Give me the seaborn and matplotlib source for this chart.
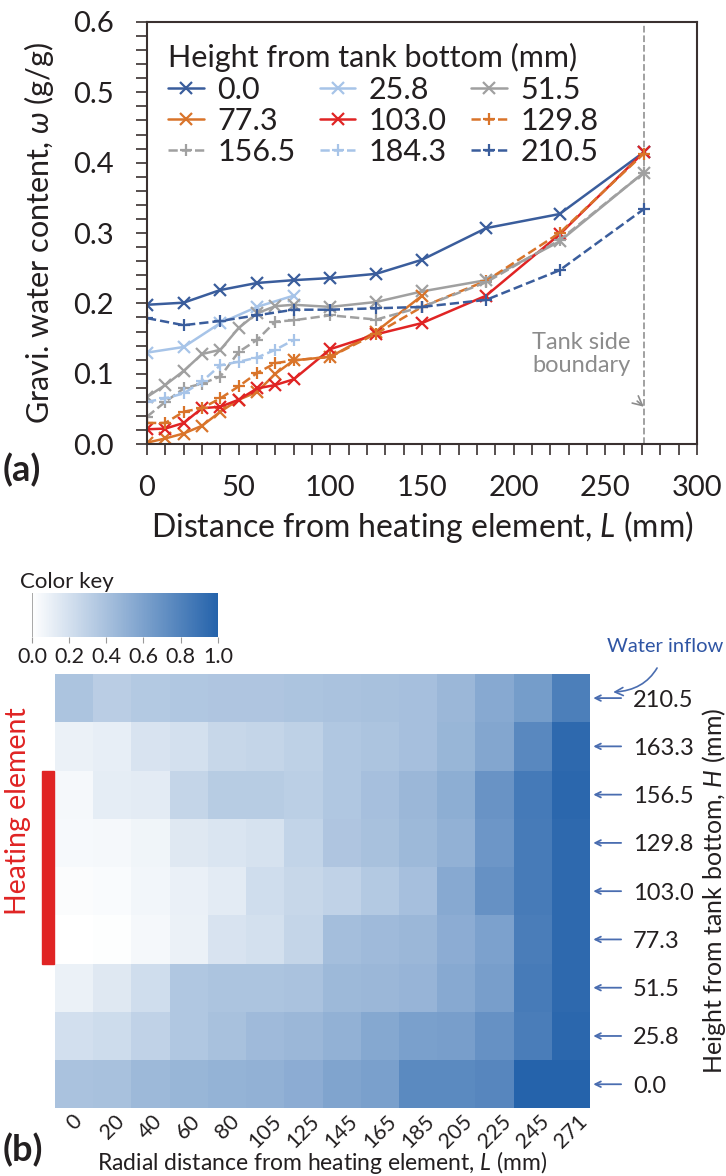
import numpy as np
import pandas as pd
import matplotlib
matplotlib.use("Agg")
import matplotlib.pyplot as plt
import matplotlib.transforms as mtransforms
from matplotlib.colors import LinearSegmentedColormap
from matplotlib.patches import Rectangle
import seaborn as sns

# ---- panel (a) data: water content vs distance ----
L10 = [0, 10, 20, 30, 40, 50, 60, 70, 80, 100, 125, 150, 185, 225, 271]
L20 = [0, 20, 40, 60, 80, 100, 125, 150, 185, 225, 271]

h_000 = [0.198, 0.201, 0.219, 0.229, 0.233, 0.236, 0.242, 0.262, 0.307, 0.327, 0.415]
h_258 = [0.130, 0.138, 0.172, 0.195, 0.211]
h_515 = [0.067, 0.084, 0.104, 0.128, 0.134, 0.165, 0.186, 0.196, 0.198, 0.195, 0.202, 0.217, 0.233, 0.288, 0.386]
h_773 = [0.002, 0.008, 0.015, 0.026, 0.046, 0.063, 0.074, 0.100, 0.119, 0.124, 0.160, 0.211]
h_1030 = [0.021, 0.022, 0.030, 0.051, 0.053, 0.063, 0.079, 0.084, 0.092, 0.135, 0.156, 0.172, 0.211, 0.298, 0.415]
h_1298 = [0.030, 0.030, 0.046, 0.051, 0.065, 0.082, 0.101, 0.115, 0.119, 0.124, 0.157, 0.195, 0.232, 0.300, 0.413]
h_1565 = [0.039, 0.060, 0.079, 0.086, 0.096, 0.131, 0.148, 0.174, 0.176, 0.183, 0.177, 0.195, 0.230, 0.290, 0.386]
h_1843 = [0.060, 0.065, 0.072, 0.089, 0.112, 0.117, 0.123, 0.134, 0.148]
h_2105 = [0.179, 0.169, 0.175, 0.183, 0.191, 0.191, 0.193, 0.195, 0.205, 0.247, 0.334]

# ---- panel (b) data: normalised heat map ----
col_labels = ["0", "20", "40", "60", "80", "105", "125", "145", "165", "185", "205", "225", "245", "271"]
row_labels = ["210.5", "163.3", "156.5", "129.8", "103.0", "77.3", "51.5", "25.8", "0.0"]
r_2105 = [0.38, 0.32, 0.35, 0.36, 0.37, 0.37, 0.38, 0.39, 0.40, 0.41, 0.46, 0.55, 0.63, 0.82]
r_1633 = [0.09, 0.11, 0.18, 0.20, 0.26, 0.27, 0.30, 0.36, 0.38, 0.41, 0.47, 0.57, 0.76, 0.96]
r_1565 = [0.05, 0.12, 0.13, 0.27, 0.33, 0.33, 0.31, 0.36, 0.41, 0.46, 0.52, 0.69, 0.85, 0.97]
r_1298 = [0.04, 0.05, 0.07, 0.15, 0.17, 0.19, 0.28, 0.37, 0.40, 0.45, 0.50, 0.67, 0.84, 0.96]
r_1030 = [0.02, 0.03, 0.06, 0.10, 0.13, 0.22, 0.26, 0.29, 0.35, 0.41, 0.55, 0.70, 0.84, 0.96]
r_773 = [0.00, 0.01, 0.05, 0.09, 0.18, 0.20, 0.27, 0.42, 0.44, 0.46, 0.53, 0.60, 0.83, 0.96]
r_515 = [0.09, 0.15, 0.22, 0.36, 0.38, 0.38, 0.39, 0.45, 0.46, 0.48, 0.55, 0.62, 0.84, 0.96]
r_258 = [0.21, 0.23, 0.29, 0.36, 0.40, 0.44, 0.46, 0.50, 0.56, 0.61, 0.62, 0.70, 0.83, 0.97]
r_000 = [0.39, 0.40, 0.45, 0.47, 0.49, 0.50, 0.53, 0.58, 0.61, 0.75, 0.75, 0.77, 1.00, 1.00]

sns.set_style("ticks")
plt.rcParams['font.family'] = ['Lato', 'DejaVu Sans']
plt.rcParams['mathtext.fontset'] = 'custom'
plt.rcParams['mathtext.it'] = 'Lato:italic'
plt.rcParams['mathtext.rm'] = 'Lato'
txt = "#231f20"
plt.rcParams['text.color'] = txt
plt.rcParams['axes.labelcolor'] = txt
plt.rcParams['xtick.color'] = txt
plt.rcParams['ytick.color'] = txt

fig = plt.figure(figsize=(7.26, 11.76), dpi=100)

# ================= (a) =================
ax = fig.add_axes([0.2025, 0.6224, 0.7576, 0.3589])

dblue = "#3a5d9c"
lblue = "#a7c4e8"
gray = "#a0a0a0"
orange = "#d9742a"
red = "#e02424"

series = [
    ("0.0", L20, h_000, dblue, "-", "x"),
    ("25.8", L20[:5], h_258, lblue, "-", "x"),
    ("51.5", L10, h_515, gray, "-", "x"),
    ("77.3", L10[:12], h_773, orange, "-", "x"),
    ("103.0", L10, h_1030, red, "-", "x"),
    ("129.8", L10, h_1298, orange, "--", "+"),
    ("156.5", L10, h_1565, gray, "--", "+"),
    ("184.3", L10[:9], h_1843, lblue, "--", "+"),
    ("210.5", L20, h_2105, dblue, "--", "+"),
]
for name, xs, ys, c, ls, mk in series:
    sns.lineplot(x=xs, y=ys, ax=ax, color=c, linestyle=ls, marker=mk,
                 markersize=8, markeredgewidth=1.6, linewidth=1.8, label=name,
                 markeredgecolor=c)

ax.axvline(271, color="#9a9a9a", linestyle="--", linewidth=1.3, zorder=0)
ax.annotate("Tank side\nboundary", xy=(271, 0.053), xytext=(237, 0.128),
            ha="center", va="center", fontsize=17, color="#8c8c8c", linespacing=1.15,
            arrowprops=dict(arrowstyle="->", color="#8c8c8c", lw=1.2,
                            shrinkA=24, shrinkB=0))

ax.set_xlim(0, 300)
ax.set_ylim(0, 0.6)
ax.set_xticks(np.arange(0, 301, 50))
ax.set_xticks(np.arange(0, 301, 10), minor=True)
ax.set_yticks(np.arange(0, 0.61, 0.1))
ax.set_yticks(np.arange(0, 0.61, 0.02), minor=True)
ax.set_yticklabels([f"{v:.1f}" for v in np.arange(0, 0.61, 0.1)])
ax.tick_params(which="both", direction="out", length=8, width=1.2, labelsize=21, color="#3a3130")
ax.tick_params(axis="x", pad=14)
ax.tick_params(axis="y", pad=16)
for s in ax.spines.values():
    s.set_color("#3a3130")
    s.set_linewidth(1.5)
ax.set_xlabel("Distance from heating element, $L$ (mm)", fontsize=23, labelpad=6)
ax.set_ylabel("Gravi. water content, $\\omega$ (g/g)", fontsize=22, labelpad=12)

# legend is filled row by row in the reference
h, lab = ax.get_legend_handles_labels()
order = [0, 3, 6, 1, 4, 7, 2, 5, 8]
leg = ax.legend([h[i] for i in order], [lab[i] for i in order], ncol=3,
                title="Height from tank bottom (mm)", loc="upper left",
                bbox_to_anchor=(0.0, 1.0), frameon=False, fontsize=22,
                title_fontsize=22, handlelength=1.15, handletextpad=0.45,
                columnspacing=0.8, labelspacing=0.1, borderaxespad=0.3,
                alignment="left")

fig.text(0.003, 0.600, "(a)", fontsize=26, fontweight="bold", va="center")

# ================= (b) =================
ax2 = fig.add_axes([0.0758, 0.0575, 0.737, 0.3694])
cax = fig.add_axes([0.044, 0.4583, 0.256, 0.0374])

heat = pd.DataFrame([r_2105, r_1633, r_1565, r_1298, r_1030, r_773, r_515, r_258, r_000],
                    index=row_labels, columns=col_labels)
cmap = LinearSegmentedColormap.from_list("wb", ["#ffffff", "#2563ab"])
sns.heatmap(heat, ax=ax2, cmap=cmap, vmin=0, vmax=1, cbar_ax=cax,
            cbar_kws={"orientation": "horizontal", "ticks": [0, 0.2, 0.4, 0.6, 0.8, 1.0]})

cax.set_xticklabels(["0.0", "0.2", "0.4", "0.6", "0.8", "1.0"])
cax.tick_params(length=4, width=0.8, color="#9a9a9a", labelsize=15.5, pad=3)
ax2.collections[0].colorbar.outline.set_visible(False)
cax.axvline(0, color="#9a9a9a", lw=1.2)
fig.text(0.028, 0.505, "Color key", fontsize=16, va="center")

ax2.tick_params(axis="x", length=0, labelsize=15.5, pad=2)
ax2.set_xticklabels(col_labels, rotation=45, ha="center")
ax2.yaxis.tick_right()
ax2.tick_params(axis="y", length=0, labelsize=17, pad=31, labelrotation=0)
ax2.set_yticklabels(row_labels)
ax2.yaxis.set_label_position("right")
ax2.set_ylabel("Height from tank bottom, $H$ (mm)", fontsize=18, rotation=90, labelpad=4)
ax2.set_xlabel("Radial distance from heating element, $L$ (mm)", fontsize=16.5, labelpad=-2)

tr = mtransforms.blended_transform_factory(ax2.transAxes, ax2.transData)
for i in range(len(row_labels)):
    ax2.annotate("", xy=(1.006, i + 0.5), xytext=(1.058, i + 0.5), xycoords=tr, textcoords=tr,
                 arrowprops=dict(arrowstyle="->", color="#4a6db0", lw=1.3, shrinkA=0, shrinkB=0),
                 annotation_clip=False)

ax2.add_patch(Rectangle((-0.025, 2.0), 0.023, 4.0, transform=tr, color="#e02424",
                        clip_on=False))
ax2.text(-0.069, 2.85, "Heating element", transform=tr, rotation=90, color="#e02424",
         fontsize=20.5, ha="center", va="center")

ax2.annotate("Water inflow", xy=(1.038, 0.958), xytext=(1.14, 1.064),
             xycoords="axes fraction", textcoords="axes fraction", color="#2f55a4",
             fontsize=14.5, ha="center", va="center", annotation_clip=False,
             arrowprops=dict(arrowstyle="->", color="#4a6db0", lw=1.2, shrinkA=8,
                             connectionstyle="arc3,rad=-0.4"))

fig.text(0.003, 0.022, "(b)", fontsize=26, fontweight="bold", va="center")

fig.savefig("out.png", dpi=100)
